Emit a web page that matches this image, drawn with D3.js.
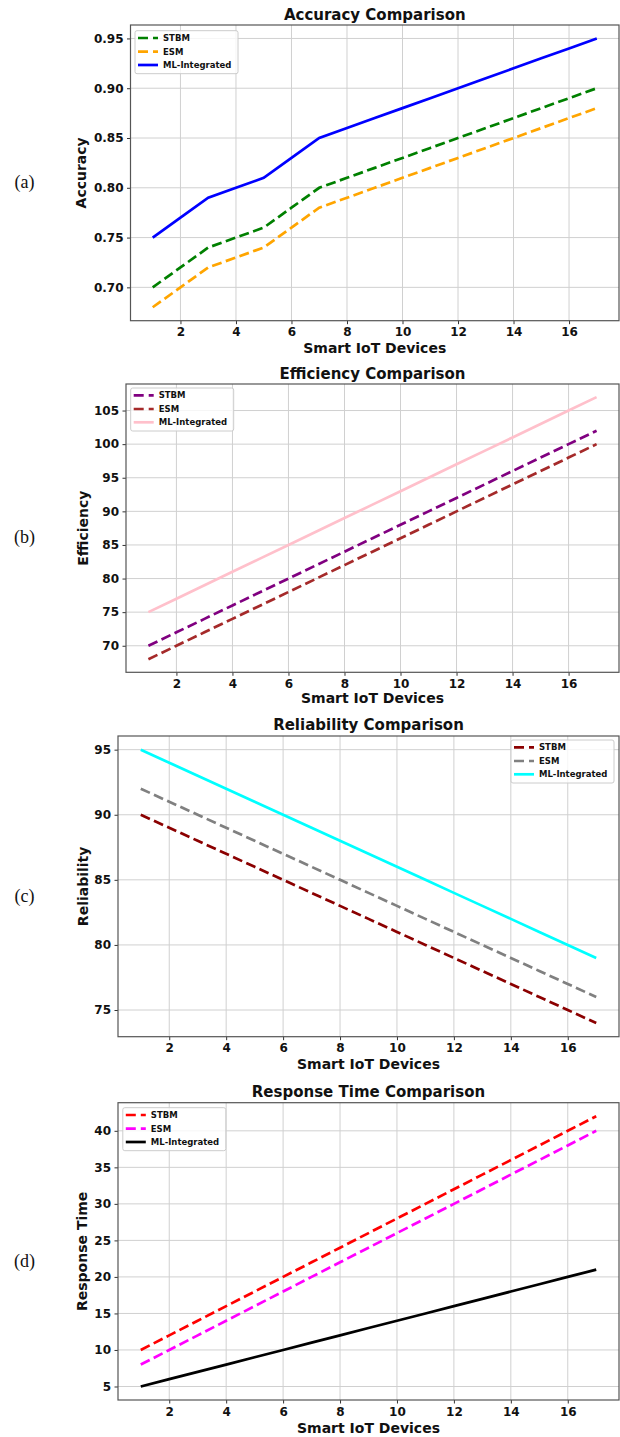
<!DOCTYPE html>
<html>
<head>
<meta charset="utf-8">
<script src="https://cdn.jsdelivr.net/npm/d3@7"></script>
<style>
body { margin: 0; background: #fff; }
svg text { font-family: "DejaVu Sans", sans-serif; font-weight: bold; fill: #111; }
svg text.side { font-family: "Liberation Serif", serif; font-weight: normal; }
</style>
</head>
<body>
<svg id="chart" width="620" height="1437"></svg>
<script>
// x values shared by all four panels
const devices = [1,2,3,4,5,6,7,8,9,10,11,12,13,14,15,16,17];
const xTicks = [2,4,6,8,10,12,14,16];
const seriesNames = ["STBM", "ESM", "ML-Integrated"];

// (a) accuracy
const accSTBM = [0.70,0.72,0.74,0.75,0.76,0.78,0.80,0.81,0.82,0.83,0.84,0.85,0.86,0.87,0.88,0.89,0.90];
const accESM  = [0.68,0.70,0.72,0.73,0.74,0.76,0.78,0.79,0.80,0.81,0.82,0.83,0.84,0.85,0.86,0.87,0.88];
const accML   = [0.75,0.77,0.79,0.80,0.81,0.83,0.85,0.86,0.87,0.88,0.89,0.90,0.91,0.92,0.93,0.94,0.95];
const accTicks = [0.70,0.75,0.80,0.85,0.90,0.95];

// (b) efficiency
const effSTBM = [70,72,74,76,78,80,82,84,86,88,90,92,94,96,98,100,102];
const effESM  = [68,70,72,74,76,78,80,82,84,86,88,90,92,94,96,98,100];
const effML   = [75,77,79,81,83,85,87,89,91,93,95,97,99,101,103,105,107];
const effTicks = [70,75,80,85,90,95,100,105];

// (c) reliability
const relSTBM = [90,89,88,87,86,85,84,83,82,81,80,79,78,77,76,75,74];
const relESM  = [92,91,90,89,88,87,86,85,84,83,82,81,80,79,78,77,76];
const relML   = [95,94,93,92,91,90,89,88,87,86,85,84,83,82,81,80,79];
const relTicks = [75,80,85,90,95];

// (d) response time
const rspSTBM = [10,12,14,16,18,20,22,24,26,28,30,32,34,36,38,40,42];
const rspESM  = [8,10,12,14,16,18,20,22,24,26,28,30,32,34,36,38,40];
const rspML   = [5,6,7,8,9,10,11,12,13,14,15,16,17,18,19,20,21];
const rspTicks = [5,10,15,20,25,30,35,40];

const svg = d3.select("#chart");

const panels = [
  {tag:"(a)", tagY:188, title:"Accuracy Comparison", ylabel:"Accuracy", ylabelX:86,
   left:130.5, right:619, top:25, bottom:320.7, titleY:20, xlabY:353, fmt:d3.format(".2f"),
   ticks:accTicks, series:[accSTBM, accESM, accML], colors:["green","orange","blue"],
   legend:{x:135, y:30.7}},
  {tag:"(b)", tagY:543, title:"Efficiency Comparison", ylabel:"Efficiency", ylabelX:88,
   left:126, right:619, top:384, bottom:672.3, titleY:378.5, xlabY:703, fmt:d3.format("d"),
   ticks:effTicks, series:[effSTBM, effESM, effML], colors:["purple","brown","pink"],
   legend:{x:130.7, y:388}},
  {tag:"(c)", tagY:902, title:"Reliability Comparison", ylabel:"Reliability", ylabelX:88,
   left:118, right:619, top:736, bottom:1036.7, titleY:730, xlabY:1069, fmt:d3.format("d"),
   ticks:relTicks, series:[relSTBM, relESM, relML], colors:["darkred","gray","cyan"],
   legend:{x:511, y:740}},
  {tag:"(d)", tagY:1267, title:"Response Time Comparison", ylabel:"Response Time", ylabelX:87,
   left:118, right:619, top:1102.7, bottom:1400, titleY:1097, xlabY:1432.5, fmt:d3.format("d"),
   ticks:rspTicks, series:[rspSTBM, rspESM, rspML], colors:["red","magenta","black"],
   legend:{x:122.8, y:1107.7}}
];

function padded(vals) {
  const ext = d3.extent(vals);
  const pad = (ext[1] - ext[0]) * 0.05;
  return [ext[0] - pad, ext[1] + pad];
}

panels.forEach(function(p) {
  const g = svg.append("g");
  const x = d3.scaleLinear().domain(padded(devices)).range([p.left, p.right]);
  const y = d3.scaleLinear().domain(padded(p.series.flat())).range([p.bottom, p.top]);

  // grid
  g.selectAll(".vg").data(xTicks).enter().append("line")
    .attr("x1", d => x(d)).attr("x2", d => x(d))
    .attr("y1", p.top).attr("y2", p.bottom)
    .attr("stroke", "#d0d0d0").attr("stroke-width", 1);
  g.selectAll(".hg").data(p.ticks).enter().append("line")
    .attr("x1", p.left).attr("x2", p.right)
    .attr("y1", d => y(d)).attr("y2", d => y(d))
    .attr("stroke", "#d0d0d0").attr("stroke-width", 1);

  // axes
  const xa = g.append("g").attr("transform", "translate(0," + p.bottom + ")")
    .call(d3.axisBottom(x).tickValues(xTicks).tickSize(3.5).tickPadding(3.5));
  const ya = g.append("g").attr("transform", "translate(" + p.left + ",0)")
    .call(d3.axisLeft(y).tickValues(p.ticks).tickFormat(p.fmt).tickSize(3.5).tickPadding(3.5));
  [xa, ya].forEach(function(a) {
    a.select(".domain").remove();
    a.attr("font-size", 12).attr("font-family", null);
    a.selectAll("line").attr("stroke", "#333");
  });

  // lines
  const line = d3.line().x((d, i) => x(devices[i])).y(d => y(d));
  p.series.forEach(function(s, i) {
    g.append("path").datum(s)
      .attr("d", line)
      .attr("fill", "none")
      .attr("stroke", p.colors[i])
      .attr("stroke-width", 2.7)
      .attr("stroke-dasharray", i < 2 ? "10,4.5" : null);
  });

  // frame
  g.append("rect")
    .attr("x", p.left).attr("y", p.top)
    .attr("width", p.right - p.left).attr("height", p.bottom - p.top)
    .attr("fill", "none").attr("stroke", "#555").attr("stroke-width", 1.2);

  // legend
  const lg = g.append("g").attr("transform", "translate(" + p.legend.x + "," + p.legend.y + ")");
  lg.append("rect").attr("width", 103).attr("height", 43).attr("rx", 2)
    .attr("fill", "#fff").attr("fill-opacity", 0.8).attr("stroke", "#ccc");
  const rows = [7.3, 21, 34.3];
  seriesNames.forEach(function(n, i) {
    lg.append("line").attr("x1", 3).attr("x2", 23).attr("y1", rows[i]).attr("y2", rows[i])
      .attr("stroke", p.colors[i]).attr("stroke-width", 2.7)
      .attr("stroke-dasharray", i < 2 ? "10,5" : null);
    lg.append("text").attr("x", 28).attr("y", rows[i] + 3).attr("font-size", 8.5).text(n);
  });

  // texts
  g.append("text").attr("x", (p.left + p.right) / 2).attr("y", p.titleY)
    .attr("text-anchor", "middle").attr("font-size", 15).text(p.title);
  g.append("text").attr("x", (p.left + p.right) / 2).attr("y", p.xlabY)
    .attr("text-anchor", "middle").attr("font-size", 14).text("Smart IoT Devices");
  g.append("text")
    .attr("transform", "translate(" + p.ylabelX + "," + (p.top + p.bottom) / 2 + ") rotate(-90)")
    .attr("text-anchor", "middle").attr("font-size", 14).text(p.ylabel);
  g.append("text").attr("class", "side").attr("x", 24.5).attr("y", p.tagY)
    .attr("text-anchor", "middle").attr("font-size", 18).text(p.tag);
});
</script>
</body>
</html>
